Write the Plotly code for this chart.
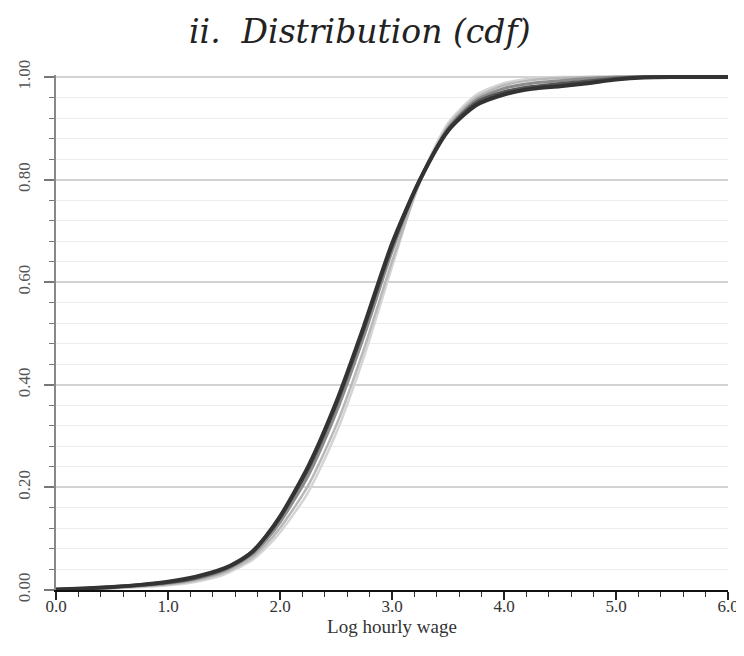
import plotly.graph_objects as go

# Log hourly wage grid points and cumulative shares (five years, light -> dark)
x_c1 = [0.0, 0.5, 1.0, 1.25, 1.5, 1.625, 1.75, 1.875, 2.0, 2.25, 2.5, 2.75, 3.0, 3.25, 3.5, 3.75, 4.0, 4.25, 4.5, 6.0]
y_c1 = [0.0005, 0.003, 0.009, 0.016, 0.030, 0.043, 0.058, 0.082, 0.112, 0.190, 0.305, 0.455, 0.630, 0.800, 0.910, 0.965, 0.988, 0.997, 1.0, 1.0]

x_c2 = [0.0, 0.5, 1.0, 1.25, 1.5, 1.625, 1.75, 1.875, 2.0, 2.25, 2.5, 2.75, 3.0, 3.25, 3.5, 3.75, 4.0, 4.25, 4.5, 4.75, 6.0]
y_c2 = [0.0008, 0.004, 0.011, 0.019, 0.034, 0.047, 0.063, 0.089, 0.121, 0.203, 0.320, 0.470, 0.640, 0.795, 0.905, 0.960, 0.984, 0.994, 0.998, 1.0, 1.0]

x_c3 = [0.0, 0.5, 1.0, 1.25, 1.5, 1.625, 1.75, 1.875, 2.0, 2.25, 2.5, 2.75, 3.0, 3.25, 3.5, 3.75, 4.0, 4.25, 4.5, 4.75, 5.0, 6.0]
y_c3 = [0.001, 0.005, 0.013, 0.022, 0.038, 0.052, 0.069, 0.097, 0.132, 0.222, 0.345, 0.495, 0.660, 0.800, 0.900, 0.955, 0.978, 0.988, 0.993, 0.997, 1.0, 1.0]

x_c4 = [0.0, 0.5, 1.0, 1.25, 1.5, 1.625, 1.75, 1.875, 2.0, 2.25, 2.5, 2.75, 3.0, 3.25, 3.5, 3.75, 4.0, 4.25, 4.5, 4.75, 5.0, 5.25, 6.0]
y_c4 = [0.001, 0.006, 0.015, 0.024, 0.041, 0.056, 0.074, 0.104, 0.141, 0.235, 0.360, 0.510, 0.670, 0.800, 0.897, 0.950, 0.971, 0.981, 0.987, 0.992, 0.997, 1.0, 1.0]

x_c5 = [0.0, 0.25, 0.5, 0.75, 1.0, 1.25, 1.5, 1.625, 1.75, 1.875, 2.0, 2.25, 2.5, 2.75, 3.0, 3.25, 3.5, 3.75, 4.0, 4.25, 4.5, 4.75, 5.0, 5.25, 5.5, 6.0]
y_c5 = [0.001, 0.003, 0.006, 0.010, 0.016, 0.026, 0.042, 0.055, 0.074, 0.105, 0.143, 0.240, 0.365, 0.515, 0.675, 0.800, 0.895, 0.945, 0.966, 0.977, 0.982, 0.988, 0.995, 0.999, 1.0, 1.0]

series = [
    (x_c1, y_c1, "#d4d4d4", 2.5),
    (x_c2, y_c2, "#b8b8b8", 2.5),
    (x_c3, y_c3, "#8c8c8c", 3.0),
    (x_c4, y_c4, "#555555", 3.5),
    (x_c5, y_c5, "#333333", 4.0),
]

y_ticks = [0.0, 0.2, 0.4, 0.6, 0.8, 1.0]
y_labels = ["0.00", "0.20", "0.40", "0.60", "0.80", "1.00"]
x_ticks = [0, 1, 2, 3, 4, 5, 6]
x_labels = ["0.0", "1.0", "2.0", "3.0", "4.0", "5.0", "6.0"]

fig = go.Figure()
for xs, ys, col, w in series:
    fig.add_trace(go.Scatter(x=xs, y=ys, mode="lines",
                             line=dict(color=col, width=w, shape="spline", smoothing=0.7),
                             showlegend=False, hoverinfo="skip"))

serif = "Liberation Serif"
fig.update_layout(
    width=736, height=640,
    margin=dict(l=48, r=16, t=67, b=58),
    paper_bgcolor="white", plot_bgcolor="white",
    title=dict(text="ii.  Distribution (cdf)", x=0.478, xanchor="center", y=0.964, yanchor="middle",
               font=dict(family="DejaVu Serif", size=33, color="#222222", style="italic")),
    xaxis=dict(range=[0, 6], tickvals=x_ticks, ticktext=x_labels, automargin=False,
               ticklabeloverflow="allow",
               ticks="outside", ticklen=8, tickwidth=1.5, tickcolor="#222222", ticklabelstandoff=-8,
               showline=True, linecolor="#111111", linewidth=2,
               showgrid=False, zeroline=False,
               minor=dict(dtick=0.2, ticks="outside", ticklen=5, tickcolor="#333333", tickwidth=1, showgrid=False),
               tickfont=dict(family=serif, size=17, color="#333333"),
               title=dict(text="Log hourly wage", font=dict(family=serif, size=19, color="#333333"), standoff=4)),
    yaxis=dict(range=[0, 1.004], tickvals=y_ticks, ticktext=y_labels, tickangle=-90, automargin=False,
               ticks="outside", ticklen=10, tickwidth=1.5, tickcolor="#777777", ticklabelstandoff=7,
               showline=True, linecolor="#888888", linewidth=2,
               showgrid=True, gridcolor="#d2d2d2", gridwidth=1.5, zeroline=False,
               minor=dict(dtick=0.04, ticks="outside", ticklen=5, tickcolor="#777777", tickwidth=1,
                          showgrid=True, gridcolor="#ececec", gridwidth=1),
               tickfont=dict(family=serif, size=17, color="#555555")),
)

fig.write_html("out.html")
